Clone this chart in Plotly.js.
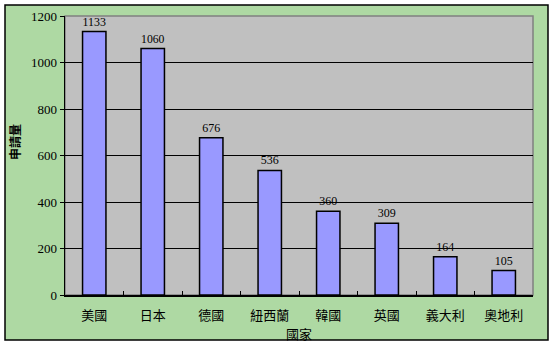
<!DOCTYPE html>
<html><head><meta charset="utf-8">
<script src="https://cdn.plot.ly/plotly-3.0.1.min.js"></script>
<style>
html,body{margin:0;padding:0;background:#fff}
#wrap{position:relative;width:554px;height:347px;background:#fff}
#bg{position:absolute;left:5px;top:5px;width:543px;height:335px;background:#AED9A3}
#c{position:absolute;left:0;top:0;width:554px;height:347px}
</style>
</head><body><div id="wrap"><div id="bg"></div><div id="c"></div></div>
<script>
const countries = ["美國","日本","德國","紐西蘭","韓國","英國","義大利","奧地利"];
const applications = [1133, 1060, 676, 536, 360, 309, 164, 105];
const yTicks = [0, 200, 400, 600, 800, 1000, 1200];

const L = 65, R = 21, T = 16, B = 52, W = 554, H = 347;
const pw = W - L - R, ph = H - T - B;

const trace = {
  type: "bar",
  x: countries,
  y: applications,
  marker: {color: "#9999FF", line: {color: "#000000", width: 1.5}},
  text: applications.map(String),
  textposition: "outside",
  cliponaxis: false,
  textfont: {family: "Liberation Serif, Times New Roman, serif", size: 12, color: "#000"},
  hoverinfo: "none"
};

const layout = {
  width: W, height: H,
  margin: {l: L, r: R, t: T, b: B, pad: 0},
  paper_bgcolor: "rgba(0,0,0,0)",
  plot_bgcolor: "#C0C0C0",
  bargap: 0.6,
  showlegend: false,
  xaxis: {
    type: "category",
    showline: true, linecolor: "#000", linewidth: 1.5,
    ticks: "inside", tickson: "boundaries", ticklen: 4, tickcolor: "#000", tickwidth: 1,
    showgrid: false,
    ticklabelstandoff: 8,
    tickfont: {family: "Noto Sans CJK TC, sans-serif", size: 13, color: "#000"},
    title: {text: "國家", font: {family: "Noto Sans CJK TC, sans-serif", size: 13, color: "#000"}, standoff: 0}
  },
  yaxis: {
    range: [0, 1200],
    tickvals: yTicks,
    ticktext: yTicks.map(String),
    showline: true, linecolor: "#000", linewidth: 1.5,
    ticks: "outside", ticklen: 4, tickcolor: "#000",
    showgrid: true, gridcolor: "#000", gridwidth: 1,
    zeroline: false,
    tickfont: {family: "Liberation Serif, Times New Roman, serif", size: 13, color: "#000"}
  },
  annotations: [
    {text: "<b>申請量</b>", xref: "paper", yref: "paper",
     x: (14 - L) / pw, y: ((H - B) - 142) / ph, xanchor: "center", yanchor: "middle",
     textangle: -90, showarrow: false,
     font: {family: "Noto Sans CJK TC, sans-serif", size: 12, color: "#000"}}
  ],
  shapes: [
    {type: "rect", xref: "paper", yref: "paper", x0: 0, x1: 1, y0: 0, y1: 1,
     line: {color: "#808080", width: 1.5}, layer: "below"},
    {type: "rect", xref: "paper", yref: "paper",
     x0: (5 - L) / pw, x1: (548 - L) / pw,
     y0: ((H - B) - 340) / ph, y1: ((H - B) - 5) / ph,
     line: {color: "#000", width: 1.5}, fillcolor: "rgba(0,0,0,0)", layer: "above"}
  ]
};

Plotly.newPlot("c", [trace], layout, {staticPlot: true, displayModeBar: false});
</script></body></html>
